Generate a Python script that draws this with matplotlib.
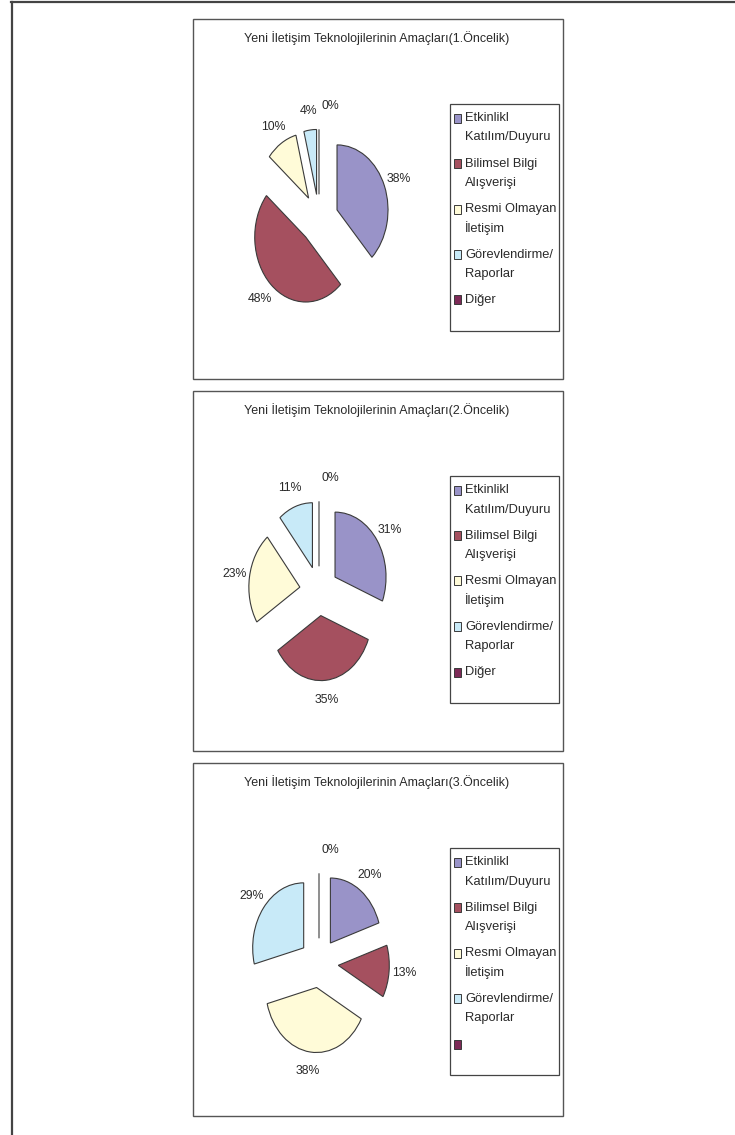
import matplotlib.pyplot as plt
from matplotlib.patches import Rectangle
from matplotlib.lines import Line2D

plt.rcParams['font.family'] = ['Liberation Sans', 'DejaVu Sans']

W, H = 735, 1135

titles = [
    "Yeni İletişim Teknolojilerinin Amaçları(1.Öncelik)",
    "Yeni İletişim Teknolojilerinin Amaçları(2.Öncelik)",
    "Yeni İletişim Teknolojilerinin Amaçları(3.Öncelik)",
]
categories = [
    "Etkinlikl\nKatılım/Duyuru",
    "Bilimsel Bilgi\nAlışverişi",
    "Resmi Olmayan\nİletişim",
    "Görevlendirme/\nRaporlar",
    "Diğer",
]
# the third chart's legend shows no text for the last entry
categories_3 = categories[:4] + [""]
colors = ["#9993C8", "#A5505F", "#FFFBD8", "#C8EAF8", "#7D2A57"]

shares_1 = [38, 48, 10, 4, 0]
shares_2 = [31, 35, 23, 11, 0]
shares_3 = [20, 13, 38, 29, 0]

box_tops = [19, 391, 763]
box_bottoms = [379, 751, 1116]

TXT = "#2a2a2a"
EDGE = "#3a3a3a"


def fx(px):
    return px / W


def fy(py):
    return 1 - py / H


fig = plt.figure(figsize=(W / 100, H / 100), dpi=100)

# outer frame, only top and left edges are visible
fig.add_artist(Line2D([fx(11), fx(W)], [fy(2), fy(2)], color="#444444", lw=1.6))
fig.add_artist(Line2D([fx(11.5), fx(11.5)], [fy(2), fy(H)], color="#444444", lw=1.6))


def draw_chart(top, bottom, title, values, labels):
    # chart border
    fig.add_artist(Rectangle((fx(193), fy(bottom)), fx(563) - fx(193), fy(top) - fy(bottom),
                             fill=False, edgecolor="#555555", lw=1.0))
    fig.text(fx(377), fy(top + 19), title, ha="center", va="center",
             fontsize=9, color=TXT)

    # pie, stretched vertically (51 px wide, 65 px tall per radius unit)
    cy = top + 200
    ax = fig.add_axes([fx(199), fy(cy + 150), 240 / W, 300 / H])
    wedges, _, autotexts = ax.pie(
        values, colors=colors, startangle=90, counterclock=False,
        explode=[0.38] * len(values), autopct="%.0f%%", pctdistance=1.3,
        wedgeprops=dict(edgecolor=EDGE, linewidth=0.8),
        textprops=dict(fontsize=8.8, color=TXT))
    ax.set_aspect("auto")
    ax.set_xlim(-120 / 51, 120 / 51)
    ax.set_ylim(-150 / 65, 150 / 65)
    ax.patch.set_visible(False)
    # keep the 0% label clear of the 4% one
    x0, y0 = autotexts[-1].get_position()
    autotexts[-1].set_position((x0 + 11 / 51, y0 + 4 / 65))

    # legend box
    lt = top + 85
    lb = top + 312
    fig.add_artist(Rectangle((fx(450), fy(lb)), fx(559) - fx(450), fy(lt) - fy(lb),
                             fill=False, edgecolor="#444444", lw=0.9))
    for i, (lab, col) in enumerate(zip(labels, colors)):
        y = lt + 14 + i * 45.5
        fig.add_artist(Rectangle((fx(454), fy(y + 4.5)), 7 / W, 9 / H,
                                 facecolor=col, edgecolor=EDGE, lw=0.7))
        for j, line in enumerate(lab.split("\n")):
            fig.text(fx(465), fy(y + j * 19.5), line, ha="left", va="center",
                     fontsize=9.3, color=TXT)


draw_chart(box_tops[0], box_bottoms[0], titles[0], shares_1, categories)
draw_chart(box_tops[1], box_bottoms[1], titles[1], shares_2, categories)
draw_chart(box_tops[2], box_bottoms[2], titles[2], shares_3, categories_3)

fig.savefig("out.png", dpi=100)
